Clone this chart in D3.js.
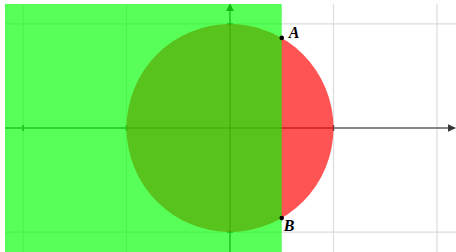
<!DOCTYPE html>
<html><head><meta charset="utf-8">
<script src="https://cdn.jsdelivr.net/npm/d3@7"></script>
<style>html,body{margin:0;padding:0;background:#fff;}svg{display:block;}</style>
</head><body>
<script>
// Data
const xTicks = [-2, -1, 0, 1, 2];
const yTicks = [-1, 0, 1];
const tickMarksX = [-2, -1, 1];
const tickMarksY = [-1, 1];
const circleData = [{cx: 0, cy: 0, r: 1}];
const halfPlaneX = [0.5];           // shaded region x <= 0.5
const pointNames = ["A", "B"];
const pointX = [0.5, 0.5];
const pointY = [0.866, -0.866];

(function () {
const W = 456, H = 252;
const padL = 5, padT = 4;
const x = d3.scaleLinear().domain([-2.174, 2.184]).range([padL, W]);
const y = d3.scaleLinear().domain([1.192, -1.192]).range([padT, H]);

const svg = d3.select("body").append("svg").attr("width", W).attr("height", H);
const defs = svg.append("defs");
defs.append("clipPath").attr("id", "clip")
  .append("rect").attr("x", padL).attr("y", padT).attr("width", W - padL).attr("height", H - padT);
defs.append("marker").attr("id", "arrow")
  .attr("viewBox", "0 0 10 10").attr("refX", 9).attr("refY", 5)
  .attr("markerWidth", 4.8).attr("markerHeight", 4.8).attr("orient", "auto")
  .attr("markerUnits", "strokeWidth")
  .append("path").attr("d", "M0,0L10,5L0,10Z").attr("fill", "#333");

const g = svg.append("g").attr("clip-path", "url(#clip)");

// grid
g.selectAll(".gx").data(xTicks).join("line")
  .attr("x1", d => x(d)).attr("x2", d => x(d)).attr("y1", padT).attr("y2", H)
  .attr("stroke", "#dcdcdc").attr("stroke-width", 1.2);
g.selectAll(".gy").data(yTicks).join("line")
  .attr("y1", d => y(d)).attr("y2", d => y(d)).attr("x1", padL).attr("x2", W)
  .attr("stroke", "#dcdcdc").attr("stroke-width", 1.2);

// axes
g.append("line").attr("x1", padL).attr("x2", W - 1).attr("y1", y(0)).attr("y2", y(0))
  .attr("stroke", "#666").attr("stroke-width", 1.6).attr("marker-end", "url(#arrow)");
g.append("line").attr("x1", x(0)).attr("x2", x(0)).attr("y1", H).attr("y2", padT)
  .attr("stroke", "#666").attr("stroke-width", 1.6).attr("marker-end", "url(#arrow)");

// ticks
g.selectAll(".tx").data(tickMarksX).join("line")
  .attr("x1", d => x(d)).attr("x2", d => x(d)).attr("y1", y(0) - 3).attr("y2", y(0) + 3)
  .attr("stroke", "#444").attr("stroke-width", 1.4);
g.selectAll(".ty").data(tickMarksY).join("line")
  .attr("y1", d => y(d)).attr("y2", d => y(d)).attr("x1", x(0) - 3).attr("x2", x(0) + 3)
  .attr("stroke", "#444").attr("stroke-width", 1.4);

// circle
g.selectAll(".circ").data(circleData).join("ellipse")
  .attr("cx", d => x(d.cx)).attr("cy", d => y(d.cy))
  .attr("rx", d => x(d.r) - x(0)).attr("ry", d => y(0) - y(d.r))
  .attr("fill", "rgb(255,0,0)").attr("fill-opacity", 0.67);

// half-plane x <= 0.5
g.selectAll(".hp").data(halfPlaneX).join("rect")
  .attr("x", padL).attr("y", padT).attr("width", d => x(d) - padL).attr("height", H - padT)
  .attr("fill", "rgb(0,255,0)").attr("fill-opacity", 0.65);

// points
const pts = pointNames.map((n, i) => ({n, x: pointX[i], y: pointY[i]}));
svg.selectAll(".pt").data(pts).join("circle")
  .attr("cx", d => x(d.x)).attr("cy", d => y(d.y)).attr("r", 2.3).attr("fill", "#000");
svg.selectAll(".lbl").data(pts).join("text")
  .attr("x", d => x(d.x) + (d.y > 0 ? 7 : 2))
  .attr("y", d => y(d.y) + (d.y > 0 ? 0 : 13))
  .attr("font-family", "Liberation Serif, serif").attr("font-style", "italic")
  .attr("font-weight", "bold").attr("font-size", 16).attr("fill", "#000")
  .text(d => d.n);
})();
</script>
</body></html>
